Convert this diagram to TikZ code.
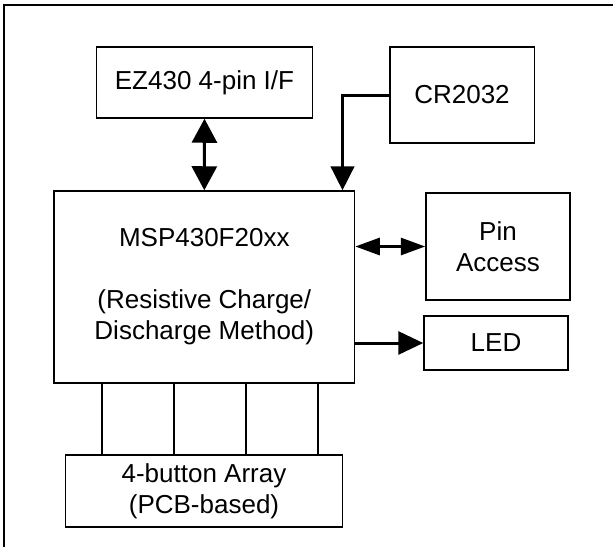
\documentclass[tikz,border=0pt]{standalone}
\usepackage{fontspec}
\setmainfont{Liberation Sans}
\usetikzlibrary{arrows.meta}
\begin{document}
\begin{tikzpicture}[x=1pt,y=-1pt,
  blk/.style={draw=black,line width=1.5pt,inner sep=0pt,align=center,
    font=\fontsize{26}{31}\selectfont},
  conn/.style={draw=black,line width=3pt},
  wire/.style={draw=black,line width=2pt}]
\useasboundingbox (0,0) rectangle (613,547);
\draw[line width=1.6pt] (4,547) -- (4,5) -- (613,5);
\node[blk,minimum width=216pt,minimum height=71pt] (ez) at (204.5,82.5) {EZ430 4-pin I/F};
\node[blk,minimum width=144.5pt,minimum height=96pt] (cr) at (462,95) {CR2032};
\node[blk,minimum width=300.5pt,minimum height=192pt] (msp) at (204.3,287)
  {MSP430F20xx\\[31pt](Resistive Charge/\\Discharge Method)};
\node[blk,minimum width=144pt,minimum height=107pt] (pin) at (498,246.5) {Pin\\Access};
\node[blk,minimum width=144pt,minimum height=54pt] (led) at (496,343) {LED};
\node[blk,minimum width=277pt,minimum height=72pt] (btn) at (204,491) {4-button Array\\(PCB-based)};
\draw[conn,{Triangle[length=24pt,width=25pt]}-{Triangle[length=24pt,width=25pt]}] (ez.south) -- (msp.north);
\draw[conn,-{Triangle[length=24pt,width=23.5pt]}] (cr.west) -| ([xshift=138.2pt]msp.north);
\draw[conn,{Triangle[length=24.5pt,width=17pt]}-{Triangle[length=24.5pt,width=17pt]}] (pin.west -| msp.east) -- (pin.west);
\draw[conn,-{Triangle[length=25pt,width=23pt]}] (led.west -| msp.east) -- (led.west);
\foreach \dx in {-102,-30,42,114}
  \draw[wire] ([xshift=\dx pt]msp.south) -- ([xshift=\dx pt]msp.south |- btn.north);
\end{tikzpicture}
\end{document}
